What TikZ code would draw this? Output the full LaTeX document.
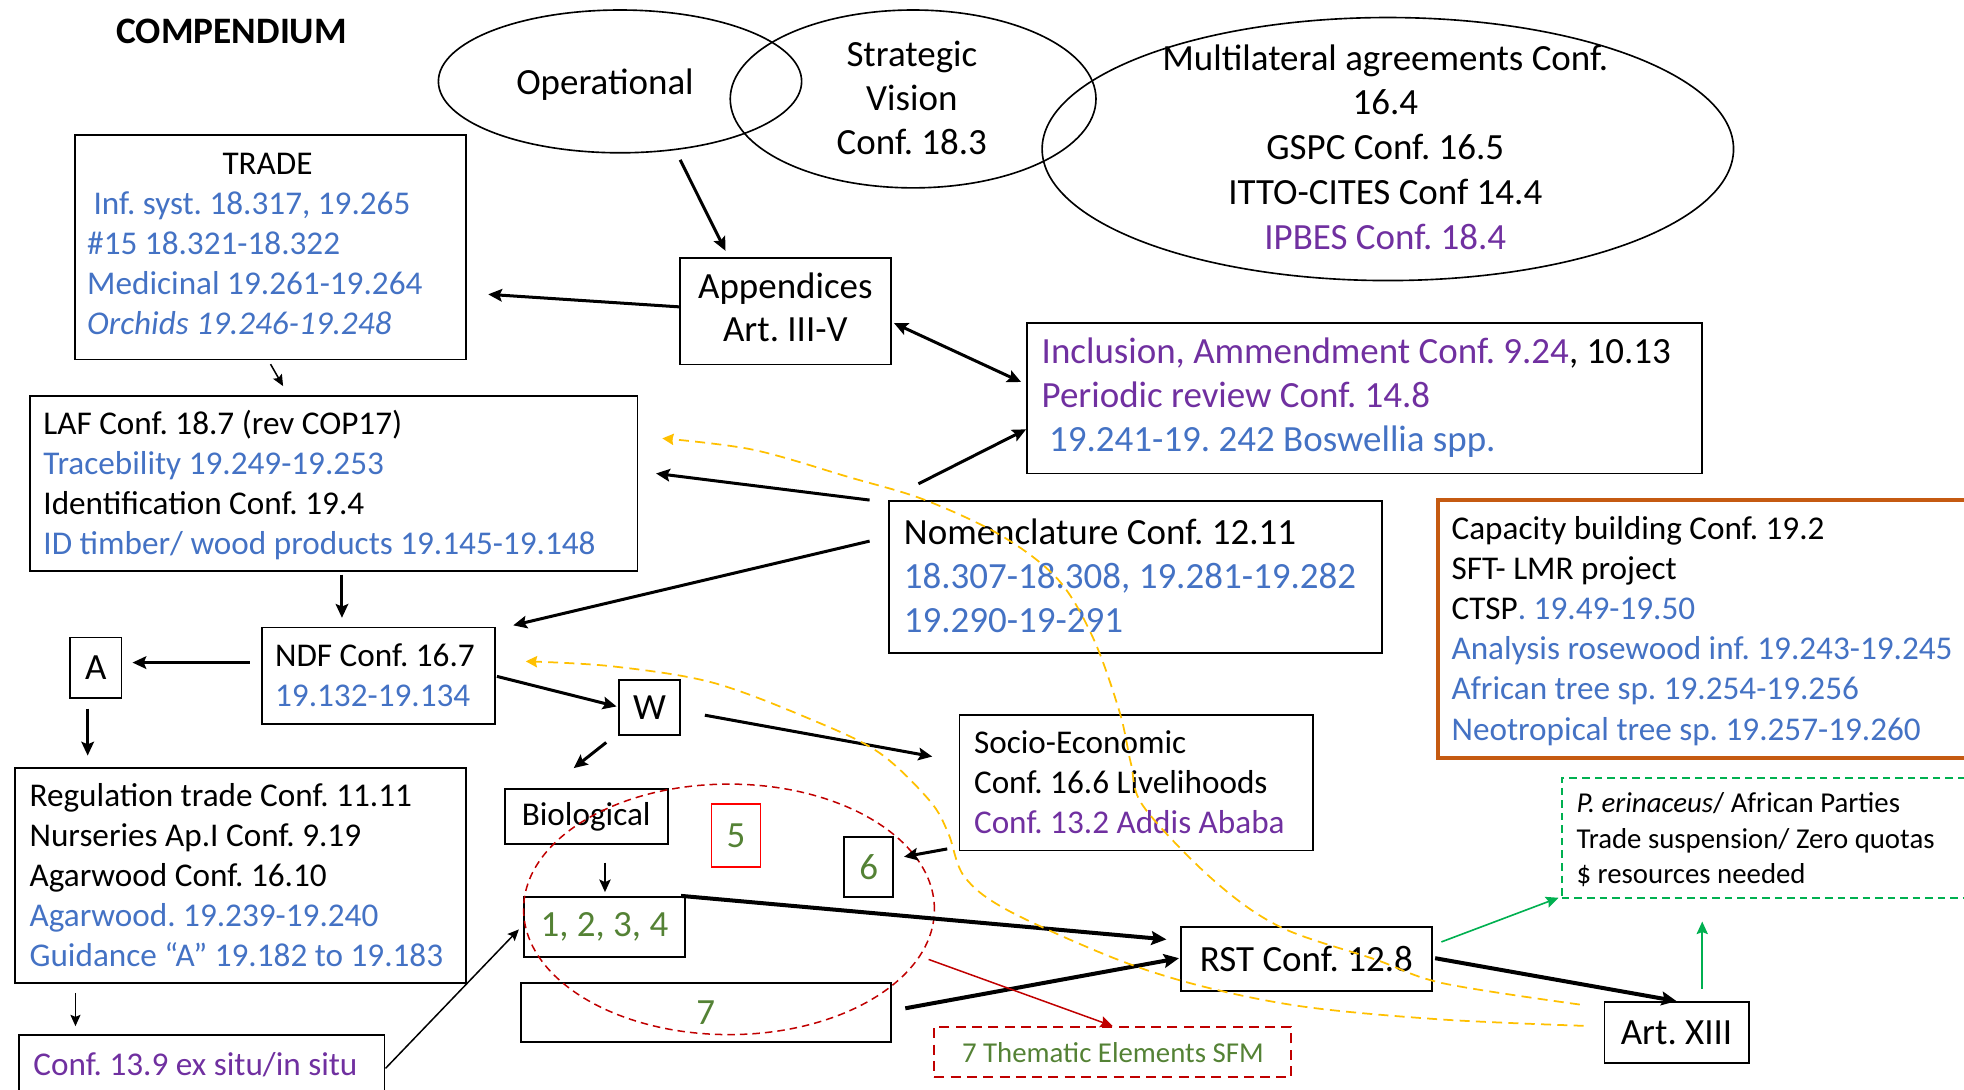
\documentclass[tikz,border=0pt]{standalone}
\usepackage{fontspec}
\setmainfont{Carlito}
\usetikzlibrary{arrows.meta,shapes.geometric}
\definecolor{cblue}{HTML}{4472C4}
\definecolor{cpurple}{HTML}{7030A0}
\definecolor{cgreen}{HTML}{548235}
\definecolor{corange}{HTML}{C55A11}
\definecolor{cgbright}{HTML}{00B050}
\definecolor{cdred}{HTML}{C00000}
\definecolor{cyellow}{HTML}{FFC000}
\newcommand\fbig{\fontsize{14.75pt}{17.5pt}\selectfont}
\newcommand\fmed{\fontsize{13.25pt}{16pt}\selectfont}
\newcommand\fsml{\fontsize{11.5pt}{14.25pt}\selectfont}
\newcommand\tblue[1]{\textcolor{cblue}{#1}}
\newcommand\tpurp[1]{\textcolor{cpurple}{#1}}
\begin{document}
\frenchspacing
\begin{tikzpicture}[x=0.5pt,y=-0.5pt,
  box/.style={draw, line width=0.75pt, inner sep=0pt},
  txt/.style={inner sep=0pt, align=left, anchor=west, yshift=-1.2pt},
  ctxt/.style={inner sep=0pt, yshift=-1.2pt},
  ell/.style={draw, ellipse, line width=0.65pt, inner sep=0pt},
  arr/.style={line width=1.2pt, -{Stealth[length=5.5pt,width=5pt,inset=1pt]}},
  arrD/.style={line width=1.2pt, {Stealth[length=5.5pt,width=5pt,inset=1pt]}-{Stealth[length=5.5pt,width=5pt,inset=1pt]}},
  arrT/.style={line width=1.6pt, -{Stealth[length=6pt,width=5.5pt,inset=1pt]}},
  arrm/.style={line width=0.9pt, -{Stealth[length=5pt,width=4.5pt,inset=1pt]}},
  arrt/.style={line width=0.6pt, -{Stealth[length=4.5pt,width=4pt,inset=0.8pt]}},
  arrg/.style={cgbright, line width=0.65pt, -{Stealth[length=5pt,width=4.5pt,inset=0.8pt]}},
  arrr/.style={cdred, line width=0.6pt, -{Stealth[length=5pt,width=4.5pt,inset=0.8pt]}},
  ydash/.style={cyellow, line width=0.7pt, dash pattern=on 4pt off 2.5pt, -{Stealth[length=4.5pt,width=4.5pt,inset=0.5pt]}},
]
\useasboundingbox (0,0) rectangle (1568,870);
\clip (0,0) rectangle (1568,870);

% title
\node[font=\bfseries\fontsize{14.9pt}{17pt}\selectfont, inner sep=0pt] (title) at (185,25) {COMPENDIUM};

% ellipses
\node[ell, minimum width=145pt, minimum height=57pt] (oper) at (495,65) {};
\node[ell, minimum width=146pt, minimum height=71pt] (strat) at (729,79) {};
\node[ell, minimum width=276pt, minimum height=105pt] (multi) at (1108,119) {};
\node[ctxt, font=\fbig] (operT) at (483,66) {\strut Operational};
\node[ctxt, font=\fbig, align=center] (stratT) at (728,79) {\strut Strategic\\Vision\\Conf. 18.3\strut};
\node[ctxt, font=\fontsize{14.75pt}{17.9pt}\selectfont, align=center] (multiT) at (1106,118) {\strut Multilateral agreements Conf.\\16.4\\GSPC Conf. 16.5\\ITTO-CITES Conf 14.4\\\tpurp{IPBES Conf. 18.4}\strut};

% TRADE
\node[box, minimum width=156pt, minimum height=89.5pt] (trade) at (216,197.5) {};
\node[txt, font=\fmed, yshift=1.5pt] (tradeT) at ([xshift=5pt]trade.west) {\strut\hspace*{54pt}TRADE\\
\tblue{\hspace*{2.5pt}Inf. syst. 18.317, 19.265}\\
\tblue{\#15 18.321-18.322}\\
\tblue{Medicinal 19.261-19.264}\\
\tblue{\itshape Orchids 19.246-19.248}\strut};

% Appendices
\node[box, minimum width=84pt, minimum height=42.5pt, align=center, font=\fbig] (appx) at (627,248.5) {\strut Appendices\\Art. III-V\strut};

% Inclusion
\node[box, minimum width=269.5pt, minimum height=60pt] (incl) at (1089.5,318) {};
\node[txt, font=\fbig, yshift=1pt] (inclT) at ([xshift=6pt]incl.west) {\strut\tpurp{Inclusion, Ammendment Conf. 9.24}, 10.13\\
\tpurp{Periodic review Conf. 14.8}\\
\tblue{\hspace*{3pt}19.241-19. 242 Boswellia spp.}\strut};

% LAF
\node[box, minimum width=242.5pt, minimum height=70pt] (laf) at (266.5,386) {};
\node[txt, font=\fmed] (lafT) at ([xshift=5.5pt]laf.west) {\strut LAF Conf. 18.7 (rev COP17)\\
\tblue{Tracebility 19.249-19.253}\\
Identification Conf. 19.4\\
\tblue{ID timber/ wood products 19.145-19.148}\strut};

% Nomenclature
\node[box, minimum width=196.5pt, minimum height=60.5pt] (nom) at (906.5,460.5) {};
\node[txt, font=\fbig] (nomT) at ([xshift=6pt]nom.west) {\strut Nomenclature Conf. 12.11\\
\tblue{18.307-18.308, 19.281-19.282}\\
\tblue{19.290-19-291}\strut};

% Capacity
\node[box, draw=corange, line width=1.5pt, minimum width=216pt, minimum height=103pt] (cap) at (1364,502) {};
\node[txt, font=\fmed] (capT) at ([xshift=6pt]cap.west) {\strut Capacity building Conf. 19.2\\
SFT- LMR project\\
CTSP\tblue{. 19.49-19.50}\\
\tblue{Analysis rosewood inf. 19.243-19.245}\\
\tblue{African tree sp. 19.254-19.256}\\
\tblue{Neotropical tree sp. 19.257-19.260}\strut};

% NDF
\node[box, minimum width=93pt, minimum height=38.5pt] (ndf) at (302,539.5) {};
\node[txt, font=\fmed] (ndfT) at ([xshift=5.5pt]ndf.west) {\strut NDF Conf. 16.7\\\tblue{19.132-19.134}\strut};

% A and W
\node[box, minimum width=20.5pt, minimum height=24pt, font=\fbig] (nodeA) at (76.5,533) {A};
\node[box, minimum width=24.5pt, minimum height=22pt, font=\fbig] (nodeW) at (518.5,565) {W};

% Regulation
\node[box, minimum width=180pt, minimum height=86pt] (reg) at (192,699) {};
\node[txt, font=\fmed] (regT) at ([xshift=6pt]reg.west) {\strut Regulation trade Conf. 11.11\\
Nurseries Ap.I Conf. 9.19\\
Agarwood Conf. 16.10\\
\tblue{Agarwood. 19.239-19.240}\\
\tblue{Guidance “A” 19.182 to 19.183}\strut};

% Conf 13.9
\node[box, minimum width=146pt, minimum height=24pt] (c139) at (161,850) {};
\node[txt, font=\fmed] (c139T) at ([xshift=6pt]c139.west) {\strut\tpurp{Conf. 13.9 ex situ/in situ}};

% Biological cluster
\node[box, minimum width=65pt, minimum height=22pt, font=\fmed] (bio) at (468,652) {Biological};
\node[box, draw=red, line width=0.6pt, minimum width=19.5pt, minimum height=25pt, font=\fbig, text=cgreen] (five) at (587.5,667) {5};
\node[box, minimum width=19.5pt, minimum height=24pt, font=\fbig, text=cgreen] (six) at (693.5,692) {6};
\node[box, minimum width=64.5pt, minimum height=24pt, font=\fbig, text=cgreen] (one) at (482.5,740) {1, 2, 3, 4};
\node[box, minimum width=147.5pt, minimum height=23.5pt, font=\fbig, text=cgreen] (seven) at (563.5,808.5) {7};

% Socio-Economic
\node[box, minimum width=141pt, minimum height=54pt] (socio) at (907,625) {};
\node[txt, font=\fmed] (socioT) at ([xshift=6pt]socio.west) {\strut Socio-Economic\\
Conf. 16.6 Livelihoods\\
\tpurp{Conf. 13.2 Addis Ababa}\strut};

% RST and Art XIII
\node[box, minimum width=100pt, minimum height=25.5pt, font=\fbig] (rst) at (1043,765.5) {RST Conf. 12.8};
\node[box, minimum width=57.5pt, minimum height=24.5pt, font=\fbig] (art) at (1338.5,824.5) {Art. XIII};

% green dashed box
\node[box, draw=cgbright, dash pattern=on 3pt off 2pt, minimum width=166.5pt, minimum height=48pt] (gbox) at (1413.5,669) {};
\node[txt, font=\fsml] (gboxT) at ([xshift=6pt]gbox.west) {\strut\textit{P. erinaceus}/ African Parties\\
Trade suspension/ Zero quotas\\
\$ resources needed\strut};

% thematic
\node[box, draw=cdred, dash pattern=on 4pt off 2.5pt, minimum width=142.5pt, minimum height=20pt, font=\fsml, text=cgreen] (them) at (888.5,840) {7 Thematic Elements SFM};

% red dashed ellipse
\node[ell, draw=cdred, line width=0.6pt, dash pattern=on 3pt off 2pt, minimum width=164pt, minimum height=100pt] (redell) at (582,726) {};

% arrows
\draw[arr] ([shift={(48,5)}]oper.south) -- ([shift={(37,-5)}]appx.north west);
\draw[arr] ([shift={(0,-3.5)}]appx.west) -- ([shift={(17,37.5)}]trade.east);
\draw[arrD] ([shift={(2,9.5)}]appx.east) -- ([shift={(-4,-13)}]incl.west);
\draw[arr] ([shift={(24,-13)}]nom.north west) -- ([shift={(0,-36)}]incl.south west);
\draw[arr] ([shift={(-15,0)}]nom.north west) -- ([shift={(14,-8)}]laf.east);
\draw[arr] ([shift={(-15,-28.5)}]nom.west) -- ([shift={(14,-1)}]ndf.north east);
\draw[arrt] ([shift={(0,3)}]trade.south) -- ([shift={(-40.5,-7)}]laf.north);
\draw[arr] ([shift={(6.5,2)}]laf.south) -- ([shift={(-29,-7)}]ndf.north);
\draw[arr] ([shift={(-9,-10.5)}]ndf.west) -- ([shift={(8,-4)}]nodeA.east);
\draw[arr] ([shift={(-6.5,8)}]nodeA.south) -- ([shift={(-122,-9)}]reg.north);
\draw[arr] ([shift={(1,0.5)}]ndf.east) -- ([shift={(-1,-1)}]nodeW.west);
\draw[arr] ([shift={(-34.5,5)}]nodeW.south) -- ([shift={(-10,-16)}]bio.north);
\draw[arr] ([shift={(19,6)}]nodeW.east) -- ([shift={(-21,-21)}]socio.west);
\draw[arrm] ([shift={(15,14)}]bio.south) -- ([shift={(0.5,-3)}]one.north);
\draw[arrt] ([shift={(49,7)}]reg.south west) -- ([shift={(46,-6)}]c139.north west);
\draw[arrt] ([shift={(0,3)}]c139.east) -- ([shift={(-3,2)}]one.west);
\draw[arr] ([shift={(-9,-2)}]socio.south west) -- ([shift={(8,-8)}]six.east);
\draw[arrT] ([shift={(-4,0)}]one.north east) -- ([shift={(-11,-15.5)}]rst.west);
\draw[arrT] ([shift={(11,-3.5)}]seven.east) -- ([shift={(-1,-0.5)}]rst.west);
\draw[arrT] ([shift={(2,-0.5)}]rst.east) -- (art.north);
\draw[arrg] ([shift={(7,-13.5)}]rst.east) -- ([shift={(-2,-1)}]gbox.south west);
\draw[arrg] ([shift={(20.5,-10)}]art.north) -- ([shift={(-54.5,18)}]gbox.south);
\draw[arrr] ([shift={(7,2)}]redell.-14) -- (them.north);

% yellow dashed curves
\coordinate (yA0) at ([shift={(-19,-22.5)}]art.west);
\coordinate (yA1) at ([shift={(19,-36)}]laf.east);
\coordinate (yB0) at ([shift={(-16,-5.5)}]art.west);
\coordinate (yB1) at ([shift={(24,-11.5)}]ndf.east);
\draw[ydash] plot[smooth, tension=0.55] coordinates {(yA0) (1152,785) (1098,766) (1022,740) (968,702) (913,644) (903,610) (894,569) (873,510) (845,463) (800,428) (738,399) (678,381) (601,359) (yA1)};
\draw[ydash] plot[smooth, tension=0.55] coordinates {(yB0) (1152,814) (1043,804) (962,788) (892,766) (805,727) (770,700) (757,665) (742,639) (702,601) (649,575) (569,545) (489,532) (yB1)};
\end{tikzpicture}
\end{document}
